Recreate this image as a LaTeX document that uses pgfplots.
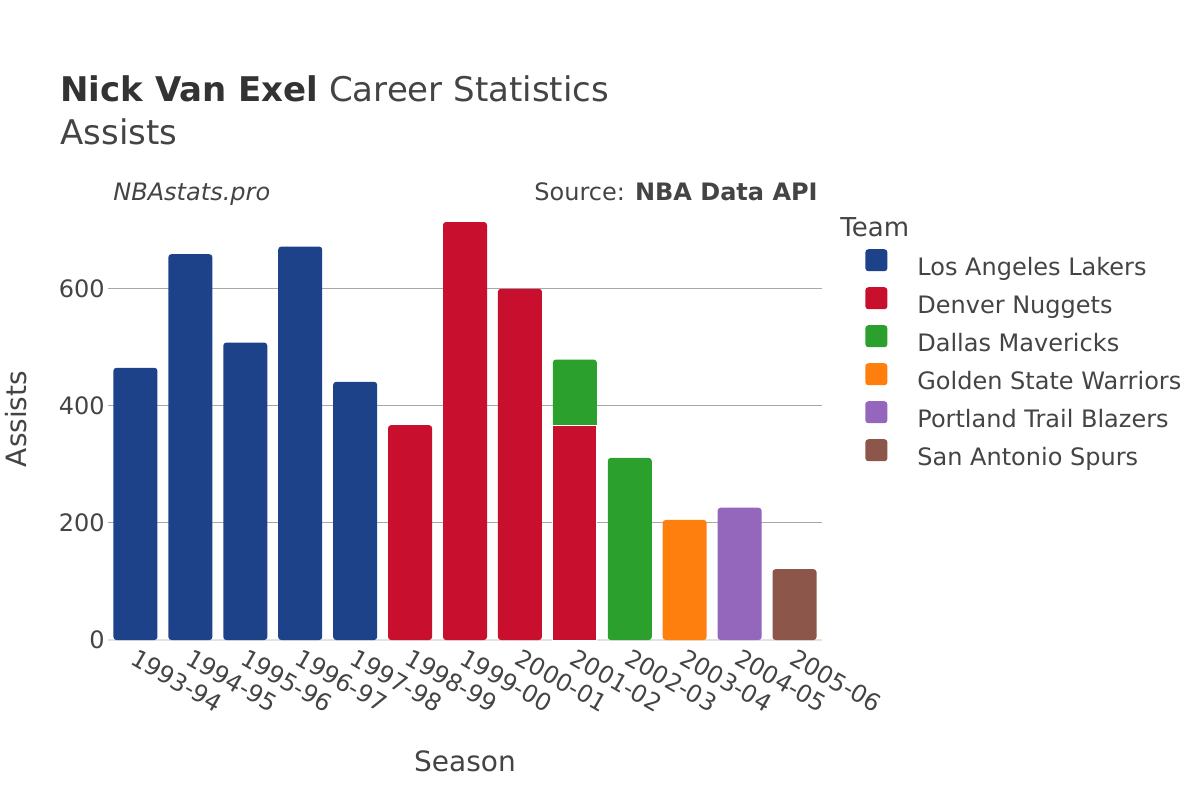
\documentclass[border=0pt]{standalone}
\usepackage{pgfplots}
\pgfplotsset{compat=1.18}
\usepackage{fontspec}
\setmainfont{DejaVu Sans}
\definecolor{txt}{HTML}{444444}
\definecolor{ttl}{HTML}{333333}
\definecolor{gridc}{HTML}{A8A8A8}
\definecolor{zeroc}{HTML}{E2E2E2}
\definecolor{lal}{HTML}{1D428A}
\definecolor{den}{HTML}{C8102E}
\definecolor{dal}{HTML}{2CA02C}
\definecolor{gsw}{HTML}{FF7F0E}
\definecolor{por}{HTML}{9467BD}
\definecolor{sas}{HTML}{8C564B}
\pgfplotsset{
  mybar/.style={ybar, bar width=22pt, bar shift=0pt, draw=none, rounded corners=1.5pt,
    legend image code/.code={\fill[##1, rounded corners=1.5pt] (0pt,-1.5pt) rectangle (11pt,9.5pt);}},
}
\begin{document}
\begin{tikzpicture}[x=1pt,y=1pt]
\path[use as bounding box] (0,0) rectangle (600,400);
\node[anchor=base west, inner sep=0pt, text=ttl, font=\fontsize{17}{20}\selectfont] at (30,349) {\textbf{Nick Van Exel} \textcolor{txt}{Career Statistics}};
\node[anchor=base west, inner sep=0pt, text=txt, font=\fontsize{17}{20}\selectfont] at (30,327.5) {Assists};
\node[anchor=base west, inner sep=0pt, text=txt, font=\fontsize{12}{14}\selectfont\itshape] at (56.5,300) {NBAstats.pro};
\node[anchor=base east, inner sep=0pt, text=txt, font=\fontsize{12}{14}\selectfont] at (409,300) {Source: \textbf{NBA Data API}};
\node[anchor=base west, inner sep=0pt, text=txt, font=\fontsize{13}{15}\selectfont] at (420,282) {Team};
\node[anchor=base, rotate=90, inner sep=0pt, text=txt, font=\fontsize{14}{16}\selectfont] at (13,190.5) {Assists};
\node[anchor=base, inner sep=0pt, text=txt, font=\fontsize{14}{16}\selectfont] at (232.5,14.5) {Season};
\begin{axis}[
  at={(54pt,80pt)}, anchor=south west, scale only axis,
  width=357pt, height=220pt,
  xmin=-0.5, xmax=12.5, ymin=0, ymax=751.6,
  axis line style={draw=none},
  xtick={0,...,12},
  xticklabels={1993-94,1994-95,1995-96,1996-97,1997-98,1998-99,1999-00,2000-01,2001-02,2002-03,2003-04,2004-05,2005-06},
  major x tick style={draw=none},
  xticklabel style={xshift=-4pt, yshift=-6pt, rotate=-30, anchor=west, font=\fontsize{12}{14}\selectfont, text=txt},
  ytick={200,400,600},
  extra y ticks={0},
  extra y tick style={grid style={color=zeroc, line width=1pt}},
  yticklabel style={font=\fontsize{12}{14}\selectfont, text=txt, inner xsep=1.5pt},
  /pgf/number format/assume math mode=true,
  ymajorgrids, grid style={color=gridc, line width=0.5pt},
  major y tick style={draw=none},
  legend cell align=left,
  legend style={at={(1.0602,0.889)}, anchor=north west, draw=none, fill=none, inner sep=0pt,
    font=\fontsize{12}{14}\selectfont, text=txt, row sep=3pt, column sep=15pt,
    nodes={inner sep=0pt, text height=10pt, text depth=3pt}},
]
\addplot[mybar, fill=lal] coordinates {(0,465) (1,659) (2,508) (3,672) (4,441)};
\addlegendentry{Los Angeles Lakers}
\addplot[mybar, fill=den] coordinates {(5,367) (6,714) (7,600)};
\addlegendentry{Denver Nuggets}
\addplot[mybar, fill=dal] coordinates {(8,479) (9,311)};
\addlegendentry{Dallas Mavericks}
\addplot[ybar, bar width=22pt, bar shift=0pt, fill=den, draw=white, line width=0.4pt, forget plot] coordinates {(8,366)};
\addplot[mybar, fill=gsw] coordinates {(10,205)};
\addlegendentry{Golden State Warriors}
\addplot[mybar, fill=por] coordinates {(11,226)};
\addlegendentry{Portland Trail Blazers}
\addplot[mybar, fill=sas] coordinates {(12,121)};
\addlegendentry{San Antonio Spurs}
\end{axis}
\end{tikzpicture}
\end{document}
